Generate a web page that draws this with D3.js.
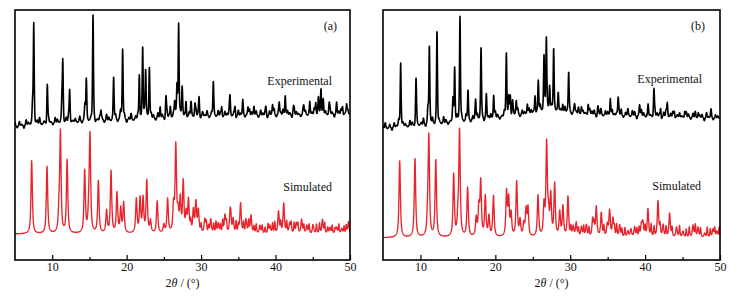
<!DOCTYPE html>
<html><head><meta charset="utf-8">
<script src="https://cdn.jsdelivr.net/npm/d3@7"></script>
<style>body{margin:0;background:#fff}svg{display:block}text{font-family:"Liberation Serif","Times New Roman",serif;fill:#111}</style>
</head><body><svg id="c" width="738" height="297"></svg>
<script>
// ---------------- data ----------------
const panelLabels = ["(a)", "(b)"];
const seriesNames = ["Experimental", "Simulated"];
const xDomain = [5, 50];
const xTicks = [10, 20, 30, 40, 50];
const xMinorTicks = [15, 25, 35, 45];
const axisTitle = ["2", "θ", " / (°)"];

// baselines [2θ, offset intensity]
const expABase = [[5,134],[10,137],[15,139],[20,140],[25,142],[30,144],[40,145],[50,146]];
const simABase = [[5,26],[50,26]];
const expBBase = [[5,132],[10,135],[15,138],[20,142],[25,147],[27.5,150],[30,147],[35,145],[40,144],[45,143],[50,142]];
const simBBase = [[5,22.3],[50,22.3]];

// peaks [2θ, height]
const expAPeaks = [[7.35,15],[7.52,100],[9.34,39],[11.3,18],[11.42,60],[12.34,32],[14.4,15],[14.58,38],[15.48,101],[16.55,10],[18.25,42],[19.2,8],[19.46,70],[21.7,44],[22.15,71],[22.55,48],[23.05,52],[24.5,10],[25.28,21],[25.87,11],[26.45,15],[26.76,30],[26.98,93],[27.45,26],[27.97,15],[28.64,13],[29.18,12],[29.72,19],[31.64,33],[32.76,9],[33.88,18],[34.55,9],[35.6,12],[36.3,8],[37.1,10],[38.7,8],[39.6,10],[40.5,12],[41.3,20],[42.4,7],[43.8,8],[44.6,10],[45.4,12],[45.75,14],[46.1,24],[46.4,10],[47.2,10],[48.2,8],[49.0,8],[49.55,10]];
const simAPeaks = [[7.24,73],[9.3,67],[10.9,18],[11.1,100],[12.0,73],[14.36,62],[14.9,18],[15.07,96],[16.2,52],[17.3,22],[17.9,62],[18.7,40],[19.2,24],[19.6,30],[21.3,34],[21.8,34],[22.2,34],[22.7,52],[23.2,12],[24.1,32],[25.0,8],[25.5,34],[26.3,26],[26.6,86],[26.9,18],[27.2,32],[27.6,50],[28.0,18],[28.3,32],[28.96,22],[29.3,30],[29.63,22],[30.5,14],[31.3,14],[32.3,10],[33.2,18],[33.9,22],[34.3,14],[35.3,30],[36.1,8],[36.7,18],[37.9,8],[39.25,8],[40.4,22],[41.1,30],[41.9,10],[42.8,10],[43.5,14],[44.2,8],[45.1,5],[46.3,14],[47.3,6],[48.2,6],[48.9,5],[49.8,12]];
const simAMinor = [[28.6,10],[30.0,8],[30.7,10],[31.0,7],[31.7,9],[32.0,11],[32.6,8],[32.9,12],[33.4,10],[34.0,9],[34.7,11],[35.0,8],[35.7,10],[36.0,9],[36.4,12],[37.1,7],[37.4,9],[38.2,8],[38.6,6],[39.0,9],[39.6,10],[39.9,11],[40.7,10],[41.5,11],[42.1,10],[42.5,10],[43.0,9],[43.8,8],[44.5,9],[45.0,6],[45.5,9],[45.9,10],[46.6,10],[47.0,6],[47.6,8],[48.0,5],[48.5,9],[49.2,7],[49.5,8]];
const expBPeaks = [[7.36,65],[9.41,46],[11.0,12],[11.19,78],[12.21,89],[14.35,20],[14.57,57],[15.28,104],[16.35,30],[17.37,19],[18.09,72],[18.8,20],[19.78,23],[21.47,62],[21.8,15],[22.0,20],[22.3,14],[22.8,14],[24.27,10],[25.3,17],[25.74,28],[26.5,54],[26.81,71],[27.25,25],[27.79,58],[28.4,12],[29.0,10],[29.79,40],[30.6,8],[31.5,7],[32.4,10],[33.7,8],[35.35,18],[36.4,17],[37.7,6],[39.27,10],[40.4,8],[41.18,27],[42.07,8],[42.96,14],[43.9,6],[45.3,6],[47.1,5],[48.8,5]];
const simBPeaks = [[7.23,77],[9.27,79],[10.95,16],[11.12,99],[12.05,77],[14.44,62],[15.0,16],[15.22,105],[16.3,49],[17.45,18],[17.8,28],[18.05,54],[18.66,40],[19.15,20],[19.75,41],[21.5,44],[21.78,36],[22.1,22],[22.85,55],[23.3,16],[23.8,12],[24.1,26],[24.36,28],[25.7,41],[26.5,30],[26.85,92],[27.1,20],[27.4,40],[27.92,52],[28.6,24],[29.03,30],[29.7,40],[30.4,10],[30.8,14],[31.5,10],[32.15,12],[33.0,18],[33.48,30],[34.15,24],[34.95,12],[35.26,26],[35.7,18],[36.6,12],[37.7,6],[38.1,8],[38.6,10],[39.5,12],[39.7,14],[40.38,28],[41.72,36],[42.4,12],[43.27,24],[44.2,10],[45.05,6],[46.4,12],[47.06,10],[47.95,4],[49.06,8],[49.6,6]];
const simBMinor = [[30.1,9],[31.1,8],[31.8,10],[32.5,9],[33.2,11],[34.5,10],[35.9,9],[36.2,12],[36.9,8],[37.3,9],[38.9,8],[39.2,9],[40.0,10],[40.8,12],[41.2,10],[42.0,11],[42.8,10],[43.6,9],[44.6,11],[45.5,8],[45.9,10],[46.7,12],[47.4,9],[48.3,10],[48.7,8],[49.3,9],[49.9,10]];

// background ripple of the measured traces, one value per 0.3° from 5°
const rippleStep = 0.3;
const expARipple = [3,-2,4,1,-3,5,2,-1,4,-2,3,6,-1,2,-3, 4,1,-2,5,3,-1,2,-3,4,6,-2,1,3,-1,5, -2,3,4,-1,2,5,-3,1,4,2,-2,6,3,-1,2, 5,-2,3,1,4,-3,2,6,-1,3,4,-2,1,5,2, -1,4,3,-2,5,1,3,-3,6,2,-1,4,2,-2,3, 5,1,-2,4,3,-1,6,2,-3,4,1,5,-2,3,2, -1,5,3,-2,4,2,6,-1,3,-3,5,2,4,-2,1, 6,3,-1,4,-2,5,2,3,-3,4,1,6,-2,3,2, 5,-1,4,2,-3,6,3,1,-2,5,4,-1,3,2,6, -2,4,1,5,3,-1,6,2,-3,4,3,5,-2,1,4];
const expBRipple = [2,5,-1,3,-3,4,1,6,-2,3,2,-1,5,3,-2, 4,-1,2,6,-3,3,1,5,-2,4,2,-1,6,3,-2, 1,4,-3,5,2,3,-1,6,1,-2,4,3,5,-1,2, -3,5,2,4,-1,6,3,-2,1,5,2,4,-3,3,1, 6,-2,4,2,-1,5,3,1,-3,4,6,-1,2,5,-2, 3,4,-1,6,2,-3,5,1,3,-2,4,2,6,-1,3, 1,-2,5,3,4,-3,2,6,-1,4,3,-2,5,1,2, 4,6,-2,3,1,-1,5,4,-3,2,6,3,-1,4,1, -2,5,3,2,-3,4,6,-1,3,5,-2,2,4,1,-1, 5,3,-2,4,6,-1,2,3,-3,5,1,4,-2,3,2];

// ---------------- drawing ----------------
const svg = d3.select("#c");
const Y0 = 10, Y1 = 260;
const yScale = d3.scaleLinear().domain([0, 250]).range([Y1, Y0]);
const panelRanges = [[15, 350], [383, 720]];
const RED = "#e8232b";

function pv(x, peaks, g, eta) {
  let s = 0;
  for (const [c, h] of peaks) {
    const d = (x - c) / g;
    if (d > 80 || d < -80) continue;
    const t = d * d;
    s += h * (eta / (1 + t) + (1 - eta) * Math.exp(-0.6931 * t));
  }
  return s;
}
function rippleAt(x, arr) {
  let s = 0;
  arr.forEach((v, i) => {
    const c = xDomain[0] + i * rippleStep;
    const d = (x - c) / 0.075;
    if (Math.abs(d) < 6) s += v * Math.exp(-0.6931 * d * d);
  });
  return s;
}
function buildSeries(base, peaks, minor, ripple, g, eta) {
  const b = d3.scaleLinear().domain(base.map(d => d[0])).range(base.map(d => d[1]));
  return d3.range(xDomain[0], xDomain[1] + 1e-9, 0.02).map(x => [x,
    b(x) + pv(x, peaks, g, eta) + (minor ? pv(x, minor, 0.07, 0.6) : 0) + (ripple ? rippleAt(x, ripple) : 0)]);
}

const panelData = [
  { exp: buildSeries(expABase, expAPeaks, null, expARipple, 0.07, 0.5),
    sim: buildSeries(simABase, simAPeaks, simAMinor, null, 0.11, 0.8) },
  { exp: buildSeries(expBBase, expBPeaks, null, expBRipple, 0.07, 0.5),
    sim: buildSeries(simBBase, simBPeaks, simBMinor, null, 0.11, 0.8) }
];

const labelPos = [
  { tag: [337, 30], exp: [332, 85], sim: [332, 191] },
  { tag: [705, 30], exp: [702, 83], sim: [701, 190] }
];

panelData.forEach((pd, i) => {
  const x = d3.scaleLinear().domain(xDomain).range(panelRanges[i]);
  const g = svg.append("g");
  const line = d3.line().x(d => x(d[0])).y(d => yScale(d[1]));
  g.append("path").datum(pd.sim).attr("d", line).attr("fill", "none")
    .attr("stroke", RED).attr("stroke-width", 1.35).attr("stroke-linejoin", "round");
  g.append("path").datum(pd.exp).attr("d", line).attr("fill", "none")
    .attr("stroke", "#000").attr("stroke-width", 1.6).attr("stroke-linejoin", "round");

  // axes (inward ticks)
  const ax = g.append("g").attr("transform", `translate(0,${Y1})`)
    .call(d3.axisBottom(x).tickValues(xTicks).tickSize(-5).tickPadding(3).tickFormat(d3.format("d")));
  ax.select(".domain").remove();
  ax.selectAll("line").attr("stroke", "#000").attr("stroke-width", 1.2);
  ax.selectAll("text").attr("font-size", 12).attr("font-family", "Liberation Serif").attr("fill", "#111").attr("dy", "0.66em");
  const axm = g.append("g").attr("transform", `translate(0,${Y1})`)
    .call(d3.axisBottom(x).tickValues(xMinorTicks).tickSize(-3).tickFormat(""));
  axm.select(".domain").remove();
  axm.selectAll("line").attr("stroke", "#000").attr("stroke-width", 1.2);

  // frame
  g.append("rect").attr("x", panelRanges[i][0]).attr("y", Y0)
    .attr("width", panelRanges[i][1] - panelRanges[i][0]).attr("height", Y1 - Y0)
    .attr("fill", "none").attr("stroke", "#000").attr("stroke-width", 1.6);

  // axis title
  const t = g.append("text").attr("x", (panelRanges[i][0] + panelRanges[i][1]) / 2).attr("y", 287)
    .attr("text-anchor", "middle").attr("font-size", 12);
  t.append("tspan").text(axisTitle[0]);
  t.append("tspan").attr("font-style", "italic").text(axisTitle[1]);
  t.append("tspan").text(axisTitle[2]);

  const lp = labelPos[i];
  g.append("text").attr("x", lp.tag[0]).attr("y", lp.tag[1]).attr("text-anchor", "end").attr("font-size", 12).text(panelLabels[i]);
  g.append("text").attr("x", lp.exp[0]).attr("y", lp.exp[1]).attr("text-anchor", "end").attr("font-size", 12).text(seriesNames[0]);
  g.append("text").attr("x", lp.sim[0]).attr("y", lp.sim[1]).attr("text-anchor", "end").attr("font-size", 12).text(seriesNames[1]);
});
</script>
</body></html>
